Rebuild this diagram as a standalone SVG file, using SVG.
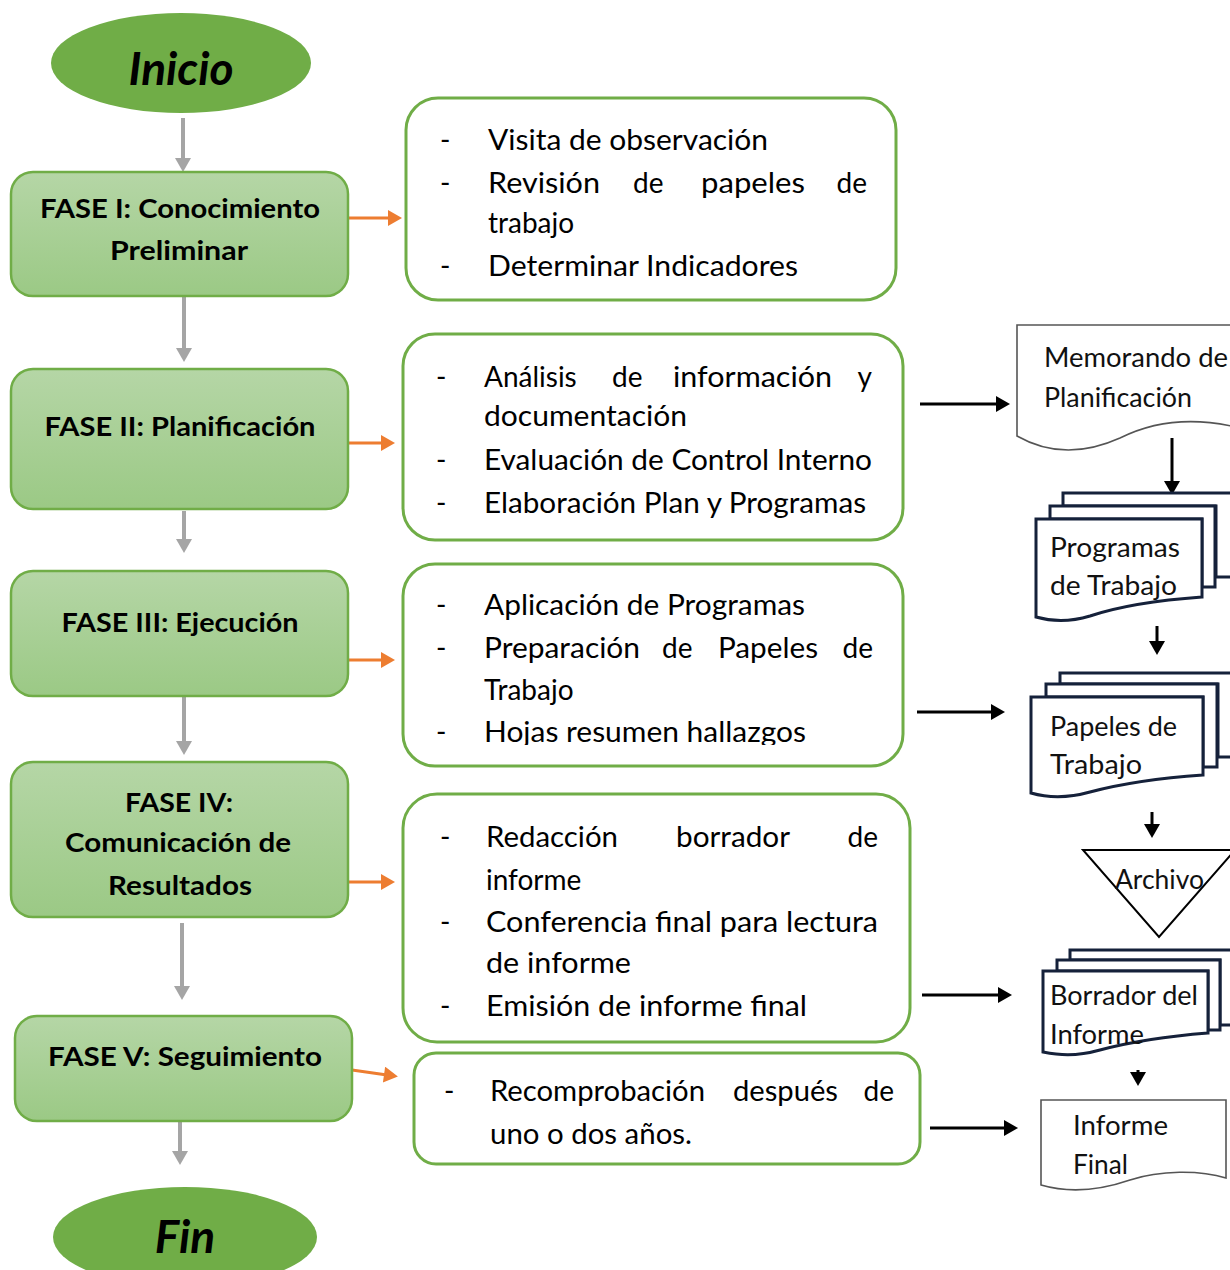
<svg xmlns="http://www.w3.org/2000/svg" width="1230" height="1270" viewBox="0 0 1230 1270">
<style>
.phase{stroke:#70AD47;stroke-width:2.5;fill:url(#gg)}
.term{fill:#70AD47}
.list{fill:#fff;stroke:#70AD47;stroke-width:3}
.t{font-family:Lato,"Liberation Sans",sans-serif;font-size:28px;fill:#000}
.b{font-family:Lato,"Liberation Sans",sans-serif;font-size:27px;font-weight:bold;fill:#000;text-anchor:middle}
.it{font-family:Lato,"Liberation Sans",sans-serif;font-size:46px;font-weight:bold;font-style:italic;fill:#000;text-anchor:middle}
.d{font-family:Lato,"Liberation Sans",sans-serif;font-size:26px;fill:#111}
.doc{fill:#fff;stroke:#555;stroke-width:1.6}
.mdoc{fill:#fff;stroke:#15213a;stroke-width:3}
.ga{stroke:#A5A5A5;stroke-width:4;fill:none;marker-end:url(#mg)}
.oa{stroke:#ED7D31;stroke-width:3;fill:none;marker-end:url(#mo)}
.ba{stroke:#000;stroke-width:3;fill:none;marker-end:url(#mb)}
</style>
<defs>
<linearGradient id="gg" x1="0" y1="0" x2="0" y2="1">
<stop offset="0" stop-color="#B5D6A6"/>
<stop offset="1" stop-color="#9BC985"/>
</linearGradient>
<marker id="mg" markerUnits="userSpaceOnUse" markerWidth="16" markerHeight="16" viewBox="0 0 14 16" refX="3" refY="8" orient="auto"><path d="M0,0 L14,8 L0,16 z" fill="#A5A5A5"/></marker>
<marker id="mo" markerUnits="userSpaceOnUse" markerWidth="16" markerHeight="16" viewBox="0 0 14 16" refX="3" refY="8" orient="auto"><path d="M0,0 L14,8 L0,16 z" fill="#ED7D31"/></marker>
<marker id="mb" markerUnits="userSpaceOnUse" markerWidth="16" markerHeight="16" viewBox="0 0 14 16" refX="3" refY="8" orient="auto"><path d="M0,0 L14,8 L0,16 z" fill="#000"/></marker>
<clipPath id="c3"><rect x="400" y="560" width="510" height="185"/></clipPath>
</defs>

<g id="connectors">
<line class="ga" x1="183" y1="118" x2="183" y2="161"/>
<line class="ga" x1="184" y1="297" x2="184" y2="351"/>
<line class="ga" x1="184" y1="511" x2="184" y2="542"/>
<line class="ga" x1="184" y1="697" x2="184" y2="744"/>
<line class="ga" x1="182" y1="923" x2="182" y2="989"/>
<line class="ga" x1="180" y1="1122" x2="180" y2="1154"/>
<line class="oa" x1="348" y1="218" x2="391" y2="218"/>
<line class="oa" x1="348" y1="443" x2="384" y2="443"/>
<line class="oa" x1="348" y1="660" x2="384" y2="660"/>
<line class="oa" x1="348" y1="882" x2="384" y2="882"/>
<line class="oa" x1="352" y1="1070" x2="387" y2="1075"/>
<line class="ba" x1="920" y1="404" x2="999" y2="404"/>
<line class="ba" x1="1172" y1="438" x2="1172" y2="484"/>
<line class="ba" x1="1157" y1="626" x2="1157" y2="644"/>
<line class="ba" x1="917" y1="712" x2="994" y2="712"/>
<line class="ba" x1="1152" y1="812" x2="1152" y2="827"/>
<line class="ba" x1="922" y1="995" x2="1001" y2="995"/>
<line class="ba" x1="1138" y1="1070" x2="1138" y2="1075"/>
<line class="ba" x1="930" y1="1128" x2="1007" y2="1128"/>
</g>

<g id="inicio">
<ellipse class="term" cx="181" cy="63" rx="130" ry="50"/>
<text class="it" x="181" y="85">Inicio</text>
</g>

<g id="fase1">
<rect class="phase" x="11" y="172" width="337" height="124" rx="22"/>
<text class="b" x="180" y="218" textLength="280" lengthAdjust="spacingAndGlyphs">FASE I: Conocimiento</text>
<text class="b" x="179" y="260" textLength="138" lengthAdjust="spacingAndGlyphs">Preliminar</text>
</g>

<g id="fase2">
<rect class="phase" x="11" y="369" width="337" height="140" rx="22"/>
<text class="b" x="180" y="436" textLength="271" lengthAdjust="spacingAndGlyphs">FASE II: Planificación</text>
</g>

<g id="fase3">
<rect class="phase" x="11" y="571" width="337" height="125" rx="22"/>
<text class="b" x="180" y="632" textLength="237" lengthAdjust="spacingAndGlyphs">FASE III: Ejecución</text>
</g>

<g id="fase4">
<rect class="phase" x="11" y="762" width="337" height="155" rx="22"/>
<text class="b" x="179" y="812" textLength="108" lengthAdjust="spacingAndGlyphs">FASE IV:</text>
<text class="b" x="178" y="852" textLength="226" lengthAdjust="spacingAndGlyphs">Comunicación de</text>
<text class="b" x="180" y="895" textLength="144" lengthAdjust="spacingAndGlyphs">Resultados</text>
</g>

<g id="fase5">
<rect class="phase" x="15" y="1016" width="337" height="105" rx="22"/>
<text class="b" x="185" y="1066" textLength="274" lengthAdjust="spacingAndGlyphs">FASE V: Seguimiento</text>
</g>

<g id="fin">
<ellipse class="term" cx="185" cy="1237" rx="132" ry="50"/>
<text class="it" x="185" y="1253">Fin</text>
</g>

<g id="list1">
<rect class="list" x="406" y="98" width="490" height="202" rx="32"/>
<text class="t" x="440" y="150">-</text>
<text class="t" x="488" y="150" textLength="280" lengthAdjust="spacingAndGlyphs">Visita de observación</text>
<text class="t" x="440" y="193">-</text>
<text class="t" x="488" y="193" textLength="112" lengthAdjust="spacingAndGlyphs">Revisión</text>
<text class="t" x="633" y="193">de</text>
<text class="t" x="701" y="193" textLength="104" lengthAdjust="spacingAndGlyphs">papeles</text>
<text class="t" x="867" y="193" text-anchor="end">de</text>
<text class="t" x="488" y="233">trabajo</text>
<text class="t" x="440" y="276">-</text>
<text class="t" x="488" y="276" textLength="310" lengthAdjust="spacingAndGlyphs">Determinar Indicadores</text>
</g>

<g id="list2">
<rect class="list" x="403" y="334" width="500" height="206" rx="32"/>
<text class="t" x="436" y="387">-</text>
<text class="t" x="484" y="387">Análisis</text>
<text class="t" x="612" y="387">de</text>
<text class="t" x="673" y="387" textLength="159" lengthAdjust="spacingAndGlyphs">información</text>
<text class="t" x="872" y="387" text-anchor="end">y</text>
<text class="t" x="484" y="426" textLength="203" lengthAdjust="spacingAndGlyphs">documentación</text>
<text class="t" x="436" y="470">-</text>
<text class="t" x="484" y="470" textLength="388" lengthAdjust="spacingAndGlyphs">Evaluación de Control Interno</text>
<text class="t" x="436" y="513">-</text>
<text class="t" x="484" y="513" textLength="382" lengthAdjust="spacingAndGlyphs">Elaboración Plan y Programas</text>
</g>

<g id="list3">
<rect class="list" x="403" y="564" width="500" height="202" rx="32"/>
<text class="t" x="436" y="615">-</text>
<text class="t" x="484" y="615" textLength="321" lengthAdjust="spacingAndGlyphs">Aplicación de Programas</text>
<text class="t" x="436" y="658">-</text>
<text class="t" x="484" y="658" textLength="156" lengthAdjust="spacingAndGlyphs">Preparación</text>
<text class="t" x="662" y="658">de</text>
<text class="t" x="718" y="658" textLength="100" lengthAdjust="spacingAndGlyphs">Papeles</text>
<text class="t" x="873" y="658" text-anchor="end">de</text>
<text class="t" x="484" y="700">Trabajo</text>
<text class="t" x="436" y="742">-</text>
<text class="t" x="484" y="742" textLength="322" lengthAdjust="spacingAndGlyphs" clip-path="url(#c3)">Hojas resumen hallazgos</text>
</g>

<g id="list4">
<rect class="list" x="403" y="794" width="507" height="248" rx="34"/>
<text class="t" x="440" y="847">-</text>
<text class="t" x="486" y="847" textLength="132" lengthAdjust="spacingAndGlyphs">Redacción</text>
<text class="t" x="676" y="847" textLength="114" lengthAdjust="spacingAndGlyphs">borrador</text>
<text class="t" x="878" y="847" text-anchor="end">de</text>
<text class="t" x="486" y="890">informe</text>
<text class="t" x="440" y="932">-</text>
<text class="t" x="486" y="932" textLength="392" lengthAdjust="spacingAndGlyphs">Conferencia final para lectura</text>
<text class="t" x="486" y="973" textLength="145" lengthAdjust="spacingAndGlyphs">de informe</text>
<text class="t" x="440" y="1016">-</text>
<text class="t" x="486" y="1016" textLength="321" lengthAdjust="spacingAndGlyphs">Emisión de informe final</text>
</g>

<g id="list5">
<rect class="list" x="414" y="1053" width="506" height="111" rx="22"/>
<text class="t" x="444" y="1101">-</text>
<text class="t" x="490" y="1101" textLength="215" lengthAdjust="spacingAndGlyphs">Recomprobación</text>
<text class="t" x="733" y="1101" textLength="105" lengthAdjust="spacingAndGlyphs">después</text>
<text class="t" x="894" y="1101" text-anchor="end">de</text>
<text class="t" x="490" y="1144" textLength="202" lengthAdjust="spacingAndGlyphs">uno o dos años.</text>
</g>

<g id="memorando">
<path class="doc" d="M1017,325 H1240 V428 C1200,418 1160,418 1120,438 C1080,456 1045,452 1017,436 Z"/>
<text class="d" x="1044" y="367" textLength="184" lengthAdjust="spacingAndGlyphs">Memorando de</text>
<text class="d" x="1044" y="407" textLength="148" lengthAdjust="spacingAndGlyphs">Planificación</text>
</g>

<g id="programas">
<path class="mdoc" d="M1063,493 H1232 V577 H1216 V506 H1063 Z"/>
<path class="mdoc" d="M1050,506 H1215 V587 H1202 V519 H1050 Z"/>
<path class="mdoc" d="M1036,519 H1202 V597 C1160,600 1120,606 1090,616 C1070,622 1050,621 1036,617 Z"/>
<text class="d" x="1050" y="557" textLength="130" lengthAdjust="spacingAndGlyphs">Programas</text>
<text class="d" x="1050" y="595" textLength="127" lengthAdjust="spacingAndGlyphs">de Trabajo</text>
</g>

<g id="papeles">
<path class="mdoc" d="M1060,673 H1232 V757 H1218 V684 H1060 Z"/>
<path class="mdoc" d="M1046,684 H1217 V767 H1203 V697 H1046 Z"/>
<path class="mdoc" d="M1031,697 H1203 V775 C1160,778 1120,784 1090,792 C1065,799 1045,797 1031,793 Z"/>
<text class="d" x="1050" y="736" textLength="127" lengthAdjust="spacingAndGlyphs">Papeles de</text>
<text class="d" x="1050" y="774" textLength="92" lengthAdjust="spacingAndGlyphs">Trabajo</text>
</g>

<g id="archivo">
<path d="M1083,850 L1235,850 L1159,937 Z" fill="#fff" stroke="#000" stroke-width="2"/>
<text class="d" x="1115" y="889" textLength="89" lengthAdjust="spacingAndGlyphs">Archivo</text>
</g>

<g id="borrador">
<path class="mdoc" d="M1070,950 H1234 V1025 H1220 V960 H1070 Z"/>
<path class="mdoc" d="M1057,960 H1220 V1030 H1208 V971 H1057 Z"/>
<path class="mdoc" d="M1043,971 H1208 V1033 C1170,1036 1130,1042 1100,1050 C1075,1057 1058,1055 1043,1052 Z"/>
<text class="d" x="1050" y="1005" textLength="148" lengthAdjust="spacingAndGlyphs">Borrador del</text>
<text class="d" x="1050" y="1044" textLength="94" lengthAdjust="spacingAndGlyphs">Informe</text>
</g>

<g id="informe-final">
<path class="doc" d="M1041,1100 H1226 V1178 C1200,1170 1160,1170 1130,1180 C1095,1192 1065,1192 1041,1185 Z"/>
<text class="d" x="1073" y="1135" textLength="95" lengthAdjust="spacingAndGlyphs">Informe</text>
<text class="d" x="1073" y="1174" textLength="55" lengthAdjust="spacingAndGlyphs">Final</text>
</g>
</svg>
